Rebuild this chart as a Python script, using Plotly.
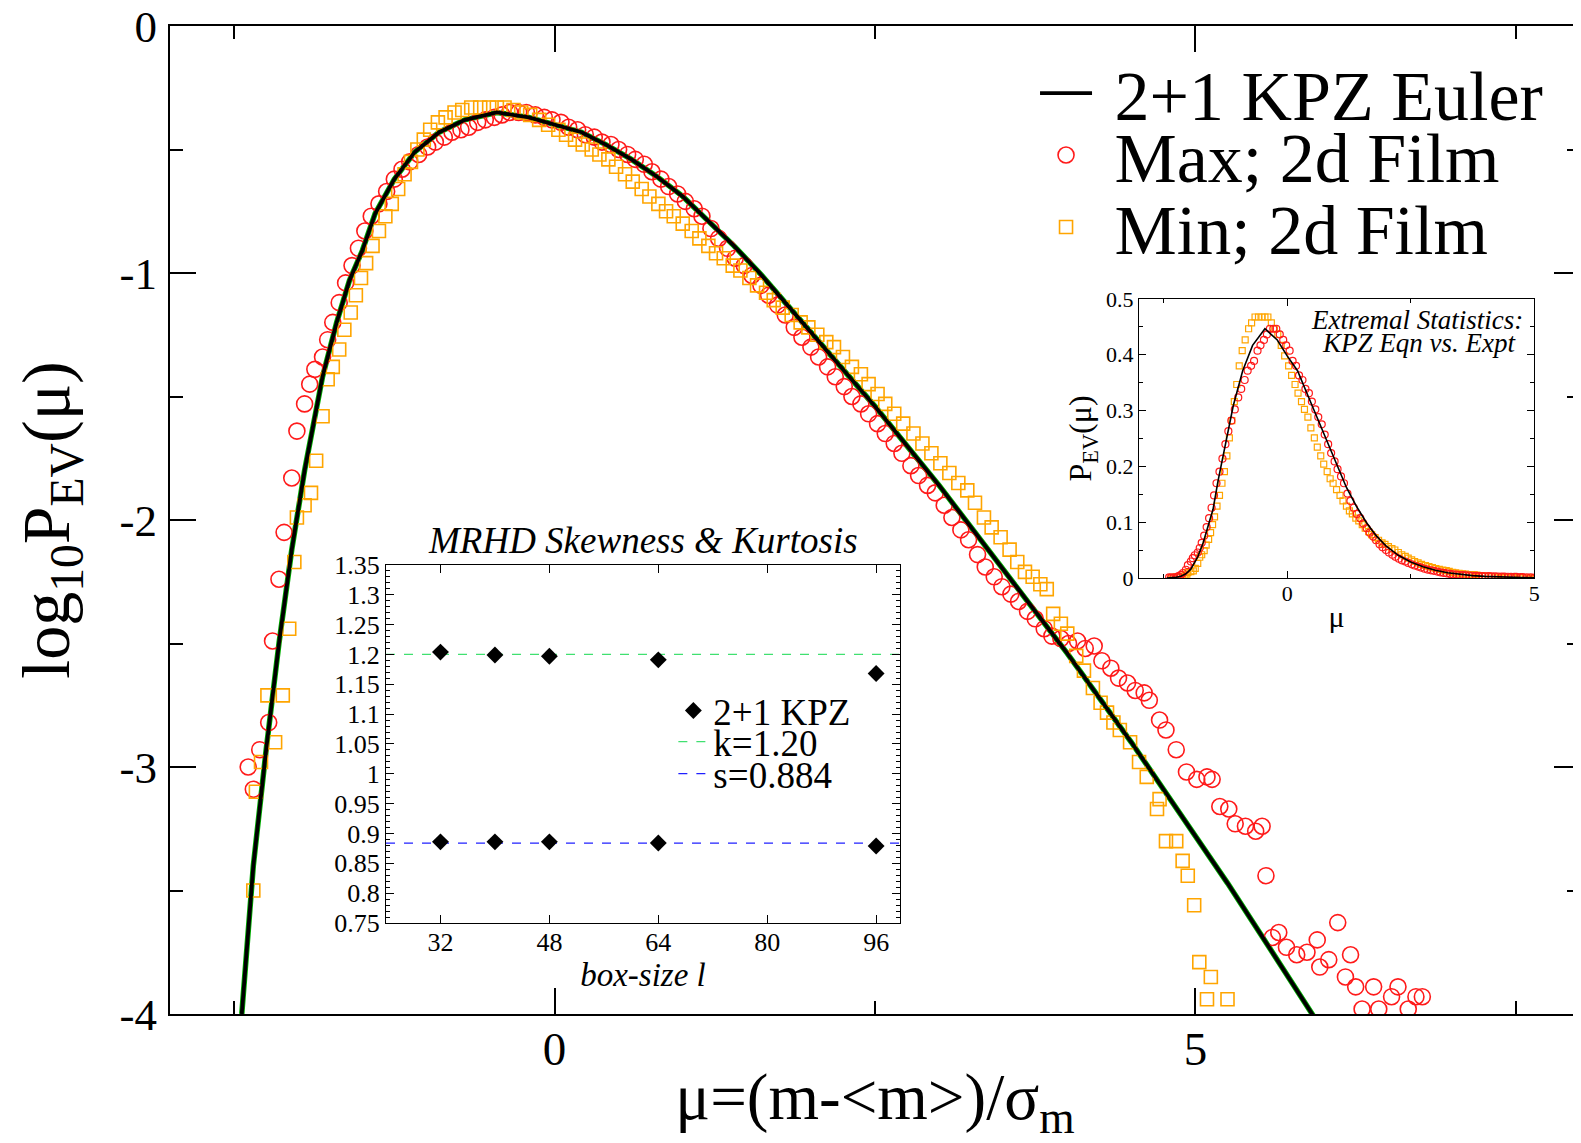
import plotly.graph_objects as go

# ---------------- data ----------------
# 2+1 KPZ Euler curve: log10 P_EV(mu)
kpz_mu = [-2.44, -2.35, -2.25, -2.15, -2.05, -1.95, -1.81, -1.70, -1.60, -1.50, -1.40, -1.25,
          -1.09, -0.90, -0.70, -0.45, -0.20, 0.00, 0.21, 0.40, 0.60, 0.80, 1.00, 1.20, 1.40,
          1.60, 1.80, 2.00, 2.25, 2.50, 2.75, 3.00, 3.25, 3.50, 3.75, 4.00, 4.25, 4.50, 4.75,
          5.00, 5.25, 5.50, 5.75, 5.96]
kpz_log = [-4.00, -3.40, -2.93, -2.50, -2.12, -1.80, -1.42, -1.20, -1.03, -0.91, -0.76, -0.62,
           -0.51, -0.43, -0.38, -0.35, -0.37, -0.40, -0.43, -0.48, -0.54, -0.61, -0.69, -0.79,
           -0.89, -1.00, -1.12, -1.24, -1.39, -1.54, -1.70, -1.86, -2.03, -2.20, -2.37, -2.54,
           -2.72, -2.90, -3.09, -3.28, -3.47, -3.67, -3.87, -4.04]

# Max; 2d Film
max_mu = [-2.39, -2.35, -2.30, -2.23, -2.20, -2.15, -2.11, -2.05, -2.01, -1.95, -1.91, -1.87,
          -1.81, -1.77, -1.73, -1.68, -1.63, -1.58, -1.53, -1.48, -1.43, -1.37, -1.31, -1.25,
          -1.19, -1.13, -1.06, -0.99, -0.93, -0.86, -0.80, -0.73, -0.67, -0.60, -0.54, -0.47,
          -0.41, -0.35, -0.28, -0.22, -0.15, -0.08, -0.02, 0.05, 0.11, 0.18, 0.24, 0.31, 0.37,
          0.44, 0.50, 0.57, 0.63, 0.70, 0.76, 0.83, 0.89, 0.96, 1.02, 1.09, 1.15, 1.22, 1.28,
          1.35, 1.41, 1.48, 1.54, 1.61, 1.67, 1.74, 1.80, 1.87, 1.93, 2.00, 2.06, 2.13, 2.19,
          2.26, 2.32, 2.39, 2.45, 2.52, 2.58, 2.65, 2.71, 2.78, 2.84, 2.91, 2.97, 3.04, 3.10,
          3.17, 3.23, 3.30, 3.36, 3.43, 3.49, 3.56, 3.62, 3.69, 3.75, 3.82, 3.88, 3.95, 4.01,
          4.08, 4.14, 4.21, 4.27, 4.34, 4.40, 4.47, 4.53, 4.60, 4.64, 4.72, 4.77, 4.85, 4.93,
          5.01, 5.09, 5.13, 5.19, 5.26, 5.31, 5.39, 5.47, 5.52, 5.55, 5.60, 5.65, 5.71, 5.79,
          5.87, 5.95, 5.97, 6.04, 6.11, 6.17, 6.21, 6.25, 6.30, 6.39, 6.43, 6.53, 6.58, 6.66,
          6.72, 6.77]
max_log = [-3.00, -3.09, -2.93, -2.82, -2.49, -2.24, -2.05, -1.83, -1.64, -1.53, -1.45, -1.39,
           -1.34, -1.27, -1.20, -1.12, -1.04, -0.97, -0.90, -0.83, -0.77, -0.72, -0.67, -0.62,
           -0.58, -0.55, -0.52, -0.49, -0.47, -0.45, -0.43, -0.42, -0.41, -0.39, -0.38, -0.37,
           -0.36, -0.35, -0.35, -0.35, -0.36, -0.37, -0.38, -0.39, -0.41, -0.42, -0.44, -0.45,
           -0.47, -0.48, -0.50, -0.52, -0.54, -0.56, -0.59, -0.62, -0.65, -0.68, -0.71, -0.74,
           -0.77, -0.82, -0.86, -0.90, -0.94, -0.97, -1.01, -1.05, -1.09, -1.13, -1.17, -1.22,
           -1.26, -1.30, -1.34, -1.38, -1.42, -1.46, -1.50, -1.53, -1.57, -1.61, -1.65, -1.69,
           -1.73, -1.78, -1.82, -1.86, -1.89, -1.94, -1.99, -2.04, -2.08, -2.14, -2.19, -2.23,
           -2.27, -2.30, -2.33, -2.37, -2.40, -2.44, -2.47, -2.48, -2.50, -2.49, -2.52, -2.51,
           -2.57, -2.60, -2.64, -2.66, -2.69, -2.70, -2.73, -2.81, -2.85, -2.93, -3.02, -3.05,
           -3.04, -3.05, -3.16, -3.17, -3.23, -3.24, -3.26, -3.24, -3.44, -3.69, -3.67, -3.73,
           -3.76, -3.75, -3.70, -3.81, -3.78, -3.63, -3.85, -3.76, -3.89, -3.98, -3.89, -3.98,
           -3.93, -3.89, -3.98, -3.93, -3.93]

# Min; 2d Film
min_mu = [-2.35, -2.33, -2.29, -2.18, -2.24, -2.12, -2.07, -2.03, -2.01, -1.95, -1.90, -1.86,
          -1.81, -1.77, -1.73, -1.68, -1.64, -1.59, -1.55, -1.51, -1.47, -1.42, -1.37, -1.32,
          -1.27, -1.22, -1.17, -1.12, -1.07, -1.02, -0.97, -0.91, -0.85, -0.78, -0.72, -0.65,
          -0.58, -0.51, -0.45, -0.39, -0.32, -0.26, -0.19, -0.12, -0.05, 0.03, 0.09, 0.16, 0.22,
          0.29, 0.35, 0.42, 0.48, 0.55, 0.61, 0.68, 0.74, 0.81, 0.87, 0.93, 1.00, 1.07, 1.13,
          1.20, 1.26, 1.32, 1.39, 1.45, 1.52, 1.58, 1.65, 1.71, 1.78, 1.85, 1.92, 1.98, 2.05,
          2.12, 2.18, 2.25, 2.32, 2.39, 2.45, 2.52, 2.58, 2.65, 2.72, 2.80, 2.87, 2.94, 3.01,
          3.08, 3.15, 3.22, 3.28, 3.35, 3.41, 3.48, 3.55, 3.61, 3.67, 3.73, 3.79, 3.84, 3.89,
          3.95, 4.00, 4.07, 4.13, 4.20, 4.26, 4.31, 4.36, 4.41, 4.49, 4.56, 4.62, 4.70, 4.72,
          4.77, 4.85, 4.90, 4.94, 4.99, 5.03, 5.12, 5.09, 5.25]
min_log = [-3.50, -3.10, -2.98, -2.90, -2.71, -2.71, -2.44, -2.17, -1.99, -1.94, -1.89, -1.76,
           -1.58, -1.43, -1.38, -1.31, -1.23, -1.16, -1.09, -1.02, -0.96, -0.89, -0.83, -0.77,
           -0.72, -0.66, -0.60, -0.55, -0.50, -0.46, -0.42, -0.39, -0.37, -0.35, -0.34, -0.33,
           -0.33, -0.33, -0.33, -0.33, -0.34, -0.35, -0.36, -0.38, -0.40, -0.42, -0.44, -0.46,
           -0.48, -0.50, -0.52, -0.54, -0.57, -0.60, -0.63, -0.66, -0.69, -0.72, -0.75, -0.77,
           -0.80, -0.83, -0.86, -0.89, -0.92, -0.94, -0.97, -0.99, -1.02, -1.05, -1.08, -1.11,
           -1.14, -1.17, -1.20, -1.22, -1.25, -1.28, -1.30, -1.34, -1.38, -1.41, -1.45, -1.49,
           -1.53, -1.57, -1.61, -1.65, -1.69, -1.73, -1.77, -1.81, -1.85, -1.88, -1.93, -1.99,
           -2.03, -2.07, -2.12, -2.17, -2.21, -2.23, -2.26, -2.28, -2.38, -2.42, -2.46, -2.55,
           -2.61, -2.68, -2.74, -2.78, -2.82, -2.85, -2.90, -2.98, -3.04, -3.17, -3.13, -3.30,
           -3.30, -3.38, -3.44, -3.56, -3.79, -3.85, -3.94, -3.94]

# Inset: MRHD skewness & kurtosis
box_size = [32, 40, 48, 64, 96]
kurtosis = [1.204, 1.199, 1.197, 1.191, 1.168]
skewness = [0.886, 0.886, 0.886, 0.884, 0.879]
k_fit = 1.20
s_fit = 0.884
box_range = [24, 99.5]

main_ytickvals = [0, -1, -2, -3, -4]
main_yticktext = ["0", "-1", "-2", "-3", "-4"]
main_xtickvals = [0, 5]
inset_xtickvals = [32, 48, 64, 80, 96]

# ---------------- figure ----------------
SERIF = "Liberation Serif"
RED = "#ff1a1a"
ORANGE = "#ffa500"
NB = "\u00a0"

fig = go.Figure()

# main panel
fig.add_trace(go.Scatter(x=kpz_mu, y=kpz_log, mode="lines", line=dict(color="#00b000", width=5.5),
                         showlegend=False, hoverinfo="skip"))
fig.add_trace(go.Scatter(x=max_mu, y=max_log, mode="markers", name=NB + "Max; 2d Film", legend="legend3",
                         marker=dict(symbol="circle-open", size=16, color=RED, line=dict(width=1.6, color=RED))))
fig.add_trace(go.Scatter(x=min_mu, y=min_log, mode="markers", name=NB + "Min; 2d Film", legend="legend4",
                         marker=dict(symbol="square-open", size=13, color=ORANGE, line=dict(width=1.6, color=ORANGE))))
fig.add_trace(go.Scatter(x=kpz_mu, y=kpz_log, mode="lines", name=NB + "2+1 KPZ Euler", legend="legend",
                         line=dict(color="black", width=3.8)))

# inset 1: skewness & kurtosis
fig.add_trace(go.Scatter(x=box_range, y=[k_fit, k_fit], mode="lines", name="k=1.20", legend="legend5",
                         xaxis="x2", yaxis="y2",
                         line=dict(color="#40e070", width=1.3, dash="dash")))
fig.add_trace(go.Scatter(x=box_range, y=[s_fit, s_fit], mode="lines", name="s=0.884", legend="legend6",
                         xaxis="x2", yaxis="y2",
                         line=dict(color="#2020ff", width=1.3, dash="dash")))
fig.add_trace(go.Scatter(x=box_size + box_size, y=kurtosis + skewness, mode="markers", name="2+1 KPZ",
                         legend="legend2", xaxis="x2", yaxis="y2",
                         marker=dict(symbol="diamond", size=13, color="black")))

# inset 2: linear P_EV
fig.add_trace(go.Scatter(x=min_mu, y=[10 ** v for v in min_log], mode="markers", showlegend=False,
                         xaxis="x3", yaxis="y3",
                         marker=dict(symbol="square-open", size=6, color=ORANGE, line=dict(width=1.2, color=ORANGE))))
fig.add_trace(go.Scatter(x=max_mu, y=[10 ** v for v in max_log], mode="markers", showlegend=False,
                         xaxis="x3", yaxis="y3",
                         marker=dict(symbol="circle-open", size=7, color=RED, line=dict(width=1.2, color=RED))))
fig.add_trace(go.Scatter(x=kpz_mu, y=[10 ** v for v in kpz_log], mode="lines", showlegend=False,
                         xaxis="x3", yaxis="y3", line=dict(color="black", width=1.6)))

axis_common = dict(showline=True, linecolor="black", mirror="allticks", showgrid=False, zeroline=False,
                   ticks="inside", tickcolor="black", automargin=False)


def one_legend(x, y, size, itemwidth):
    return dict(x=x, y=y, xanchor="left", yanchor="middle", bgcolor="rgba(0,0,0,0)",
                font=dict(size=size, family=SERIF), itemwidth=itemwidth, tracegroupgap=0)


fig.update_layout(
    width=1573, height=1135, autosize=False,
    paper_bgcolor="white", plot_bgcolor="white",
    margin=dict(l=162, r=1, t=18, b=129),
    font=dict(family=SERIF, color="black"),
    xaxis=dict(**axis_common, domain=[0, 1], range=[-3, 8], tickvals=main_xtickvals,
               ticklen=26, tickwidth=2, linewidth=2, ticklabelstandoff=-7, ticklabeloverflow="allow",
               tickfont=dict(size=47, family=SERIF),
               minor=dict(ticks="inside", dtick=2.5, tick0=0, ticklen=13, tickwidth=2, tickcolor="black"),
               title=dict(text="μ=(m-&lt;m&gt;)/σ<sub>m</sub>", font=dict(size=65, family=SERIF), standoff=10)),
    yaxis=dict(**axis_common, domain=[0, 1], range=[-4, 0], tickvals=main_ytickvals, ticktext=main_yticktext,
               ticklen=26, tickwidth=2, linewidth=2, ticklabelstandoff=2, ticklabeloverflow="allow",
               tickfont=dict(size=45, family=SERIF),
               minor=dict(ticks="inside", dtick=0.5, tick0=0, ticklen=13, tickwidth=2, tickcolor="black"),
               title=dict(text="log<sub>10</sub>P<sub>EV</sub>(μ)", font=dict(size=68, family=SERIF), standoff=30)),
    xaxis2=dict(**axis_common, domain=[0.1532, 0.5177], anchor="y2", range=box_range,
                tickvals=inset_xtickvals, ticklen=8, tickwidth=1, linewidth=1, ticklabelstandoff=-4,
                tickfont=dict(size=26, family=SERIF),
                title=dict(text="<i>box-size l</i>", font=dict(size=33, family=SERIF), standoff=0)),
    yaxis2=dict(**axis_common, domain=[0.0921, 0.4545], anchor="x2", range=[0.75, 1.35], dtick=0.05,
                tick0=0.75, ticklen=8, tickwidth=1, linewidth=1,
                tickfont=dict(size=26, family=SERIF),
                minor=dict(ticks="inside", dtick=0.01, tick0=0.75, ticklen=4, tickwidth=1, tickcolor="black")),
    xaxis3=dict(**axis_common, domain=[0.6872, 0.9675], anchor="y3", range=[-3, 5], dtick=5, tick0=0,
                ticklen=7, tickwidth=1, linewidth=1, ticklabelstandoff=-4,
                tickfont=dict(size=22, family=SERIF),
                minor=dict(ticks="inside", dtick=2.5, tick0=0, ticklen=4, tickwidth=1, tickcolor="black"),
                title=dict(text="μ", font=dict(size=30, family=SERIF), standoff=0)),
    yaxis3=dict(**axis_common, domain=[0.4413, 0.7237], anchor="x3", range=[0, 0.5], dtick=0.1, tick0=0,
                ticklen=7, tickwidth=1, linewidth=1,
                tickfont=dict(size=22, family=SERIF),
                minor=dict(ticks="inside", dtick=0.05, tick0=0, ticklen=4, tickwidth=1, tickcolor="black"),
                title=dict(text="P<sub>EV</sub>(μ)", font=dict(size=32, family=SERIF), standoff=4)),
    legend=one_legend(0.6135, 0.9321, 70, 52),
    legend3=one_legend(0.6135, 0.8694, 70, 52),
    legend4=one_legend(0.6135, 0.7965, 70, 52),
    legend2=one_legend(0.357, 0.3067, 37, 30),
    legend5=one_legend(0.357, 0.2753, 37, 30),
    legend6=one_legend(0.357, 0.2429, 37, 30),
    annotations=[
        dict(text="<i>MRHD Skewness &amp; Kurtosis</i>", xref="x2 domain", yref="y2 domain",
             x=0.5, y=1.0, xanchor="center", yanchor="bottom", showarrow=False, yshift=2,
             font=dict(size=37, family=SERIF)),
        dict(text="<i>Extremal Statistics:</i>", xref="x3 domain", yref="y3 domain",
             x=0.978, y=0.925, xanchor="right", yanchor="middle", showarrow=False,
             font=dict(size=27, family=SERIF)),
        dict(text="<i>KPZ Eqn vs. Expt</i>", xref="x3 domain", yref="y3 domain",
             x=0.958, y=0.842, xanchor="right", yanchor="middle", showarrow=False,
             font=dict(size=27, family=SERIF)),
    ],
)

fig.write_html("out.html")
